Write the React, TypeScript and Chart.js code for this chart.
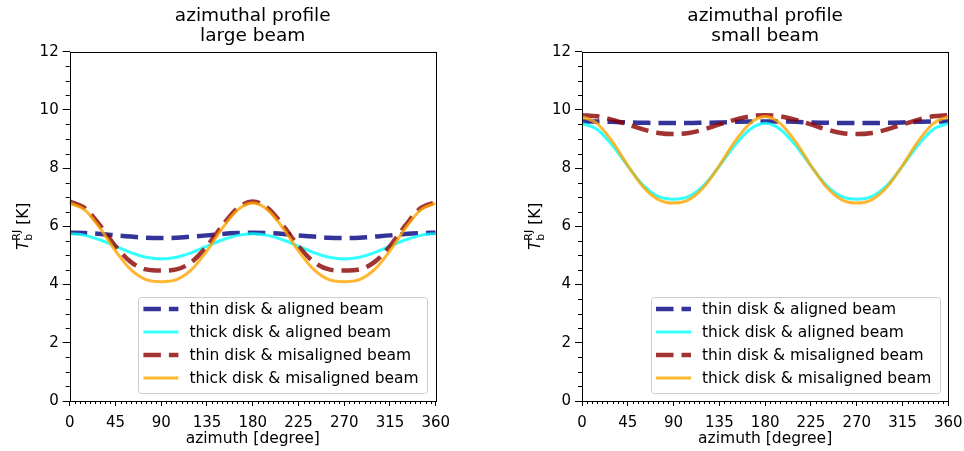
import React, { useEffect, useRef } from "react";
import { Chart, registerables } from "chart.js";

Chart.register(...registerables);

// ---------- data ----------
const AZIMUTH = [0, 15, 30, 45, 60, 75, 90, 105, 120, 135, 150, 165, 180, 195, 210, 225, 240, 255, 270, 285, 300, 315, 330, 345, 360];

const SERIES_LABELS = [
  "thin disk & aligned beam",
  "thick disk & aligned beam",
  "thin disk & misaligned beam",
  "thick disk & misaligned beam",
];

// large beam
const LARGE_THIN_ALIGNED = [5.78, 5.77, 5.74, 5.69, 5.65, 5.61, 5.6, 5.61, 5.65, 5.69, 5.74, 5.77, 5.78, 5.77, 5.74, 5.69, 5.65, 5.61, 5.6, 5.61, 5.65, 5.69, 5.74, 5.77, 5.78];
const LARGE_THICK_ALIGNED = [5.75, 5.69, 5.53, 5.32, 5.1, 4.94, 4.88, 4.94, 5.1, 5.32, 5.53, 5.69, 5.75, 5.69, 5.53, 5.32, 5.1, 4.94, 4.88, 4.94, 5.1, 5.32, 5.53, 5.69, 5.75];
const LARGE_THIN_MISALIGNED = [6.85, 6.62, 6.02, 5.32, 4.78, 4.52, 4.48, 4.52, 4.78, 5.32, 6.02, 6.62, 6.85, 6.62, 6.02, 5.32, 4.78, 4.52, 4.48, 4.52, 4.78, 5.32, 6.02, 6.62, 6.83];
const LARGE_THICK_MISALIGNED = [6.8, 6.56, 5.93, 5.16, 4.52, 4.17, 4.1, 4.17, 4.52, 5.16, 5.93, 6.56, 6.8, 6.56, 5.93, 5.16, 4.52, 4.17, 4.1, 4.17, 4.52, 5.16, 5.93, 6.56, 6.8];

// small beam
const SMALL_THIN_ALIGNED = [9.6, 9.6, 9.59, 9.57, 9.56, 9.55, 9.55, 9.55, 9.56, 9.57, 9.59, 9.6, 9.6, 9.6, 9.59, 9.57, 9.56, 9.55, 9.55, 9.55, 9.56, 9.57, 9.59, 9.6, 9.6];
const SMALL_THICK_ALIGNED = [9.54, 9.33, 8.78, 8.07, 7.42, 7.03, 6.93, 7.03, 7.42, 8.07, 8.78, 9.33, 9.54, 9.33, 8.78, 8.07, 7.42, 7.03, 6.93, 7.03, 7.42, 8.07, 8.78, 9.33, 9.54];
const SMALL_THIN_MISALIGNED = [9.82, 9.78, 9.66, 9.5, 9.33, 9.21, 9.17, 9.21, 9.33, 9.5, 9.66, 9.78, 9.82, 9.78, 9.66, 9.5, 9.33, 9.21, 9.17, 9.21, 9.33, 9.5, 9.66, 9.78, 9.82];
const SMALL_THICK_MISALIGNED = [9.77, 9.53, 8.9, 8.09, 7.36, 6.92, 6.8, 6.92, 7.36, 8.09, 8.9, 9.53, 9.77, 9.53, 8.9, 8.09, 7.36, 6.92, 6.8, 6.92, 7.36, 8.09, 8.9, 9.53, 9.77];

const X_TICKS = [0, 45, 90, 135, 180, 225, 270, 315, 360];
const Y_TICKS = [0, 2, 4, 6, 8, 10, 12];
const X_MINOR_STEP = 5;
const Y_MINOR_STEP = 0.5;

const TITLE_TOP = "azimuthal profile";
const X_TITLE = "azimuth [degree]";

// ---------- styles ----------
const FAMILY = "'DejaVu Sans', sans-serif";
const STYLES = [
  { color: "rgba(0,0,128,0.8)", width: 4.5, dash: [17.5, 8] },
  { color: "rgba(0,255,255,0.8)", width: 3, dash: [] as number[] },
  { color: "rgba(139,0,0,0.8)", width: 4.5, dash: [17.5, 8] },
  { color: "rgba(255,165,0,0.8)", width: 3, dash: [] as number[] },
];

const decorPlugin = {
  id: "decor",
  afterDraw(chart: any, _args: any, opts: any) {
    const ctx = chart.ctx as CanvasRenderingContext2D;
    const a = chart.chartArea;
    const xs = chart.scales.x;
    const ys = chart.scales.y;
    ctx.save();

    // frame
    ctx.strokeStyle = "#000";
    ctx.lineWidth = 1;
    ctx.strokeRect(Math.round(a.left) + 0.5, Math.round(a.top) + 0.5, Math.round(a.right) - Math.round(a.left), Math.round(a.bottom) - Math.round(a.top));

    // minor ticks
    ctx.beginPath();
    for (let v = 0; v <= 360; v += X_MINOR_STEP) {
      if (v % 45 === 0) continue;
      const px = Math.round(xs.getPixelForValue(v)) + 0.5;
      ctx.moveTo(px, a.bottom);
      ctx.lineTo(px, a.bottom + 3);
    }
    for (let v = 0; v <= 12; v += Y_MINOR_STEP) {
      if (Math.abs(v % 2) < 1e-9) continue;
      const py = Math.round(ys.getPixelForValue(v)) + 0.5;
      ctx.moveTo(a.left, py);
      ctx.lineTo(a.left - 4, py);
    }
    ctx.stroke();

    const cx = (a.left + a.right) / 2;
    ctx.fillStyle = "#000";
    ctx.textAlign = "center";
    ctx.textBaseline = "alphabetic";

    // title
    ctx.font = `18.5px ${FAMILY}`;
    ctx.fillText(TITLE_TOP, cx, 21);
    ctx.fillText(opts.subtitle, cx, 41);

    // x title
    ctx.font = `15.5px ${FAMILY}`;
    ctx.fillText(X_TITLE, cx, 443);

    // y title
    ctx.save();
    ctx.translate(a.left - 42, (a.top + a.bottom) / 2);
    ctx.rotate(-Math.PI / 2);
    ctx.textAlign = "left";
    const big = `15.5px ${FAMILY}`;
    const bigI = `italic 15.5px ${FAMILY}`;
    const small = `11px ${FAMILY}`;
    ctx.font = bigI;
    const wT = ctx.measureText("T").width;
    ctx.font = small;
    const wScript = Math.max(ctx.measureText("b").width, ctx.measureText("RJ").width);
    ctx.font = big;
    const wK = ctx.measureText(" [K]").width;
    let x0 = -(wT + wScript + wK) / 2;
    ctx.font = bigI;
    ctx.fillText("T", x0, 0);
    x0 += wT;
    ctx.font = small;
    ctx.fillText("b", x0, 4);
    ctx.fillText("RJ", x0, -8);
    x0 += wScript;
    ctx.font = big;
    ctx.fillText(" [K]", x0, 0);
    ctx.restore();

    // legend
    ctx.font = `15.5px ${FAMILY}`;
    const datasets = chart.data.datasets;
    let maxW = 0;
    datasets.forEach((d: any) => {
      maxW = Math.max(maxW, ctx.measureText(d.label).width);
    });
    const boxW = 51 + maxW + 9;
    const boxH = 96;
    const bx = a.right - 8 - boxW;
    const by = a.bottom - 8 - boxH;
    ctx.beginPath();
    (ctx as any).roundRect(Math.round(bx) + 0.5, Math.round(by) + 0.5, Math.round(boxW), Math.round(boxH), 3);
    ctx.fillStyle = "rgba(255,255,255,0.8)";
    ctx.fill();
    ctx.strokeStyle = "#cccccc";
    ctx.lineWidth = 1;
    ctx.stroke();
    datasets.forEach((d: any, i: number) => {
      const cy = by + 12 + i * 23;
      ctx.beginPath();
      ctx.strokeStyle = d.borderColor;
      ctx.lineWidth = d.borderWidth;
      ctx.setLineDash(d.borderDash || []);
      ctx.lineCap = "butt";
      ctx.moveTo(bx + 5, cy);
      ctx.lineTo(bx + 40, cy);
      ctx.stroke();
      ctx.setLineDash([]);
      ctx.fillStyle = "#000";
      ctx.textAlign = "left";
      ctx.textBaseline = "middle";
      ctx.fillText(d.label, bx + 51, cy + 1);
    });

    ctx.restore();
  },
};

type PanelProps = {
  left: number;
  width: number;
  plotLeft: number;
  padRight: number;
  subtitle: string;
  series: number[][];
};

function Panel({ left, width, plotLeft, padRight, subtitle, series }: PanelProps) {
  const ref = useRef<HTMLCanvasElement | null>(null);
  useEffect(() => {
    if (!ref.current) return;
    const datasets = series.map((vals, i) => ({
      label: SERIES_LABELS[i],
      data: AZIMUTH.map((x, j) => ({ x, y: vals[j] })),
      borderColor: STYLES[i].color,
      borderWidth: STYLES[i].width,
      borderDash: STYLES[i].dash,
      borderCapStyle: "butt",
      pointRadius: 0,
      fill: false,
      cubicInterpolationMode: "monotone",
      clip: 0,
      order: 3 - i,
    }));
    const chart = new Chart(ref.current, {
      type: "line",
      data: { datasets } as any,
      options: {
        responsive: false,
        animation: false,
        devicePixelRatio: 1,
        layout: { padding: { left: 0, right: padRight, top: 51.7, bottom: 0 } },
        plugins: {
          legend: { display: false },
          tooltip: { enabled: false },
          title: { display: false },
          decor: { subtitle },
        } as any,
        scales: {
          x: {
            type: "linear",
            min: 0,
            max: 360,
            afterBuildTicks: (s: any) => {
              s.ticks = X_TICKS.map((v) => ({ value: v }));
            },
            afterFit: (s: any) => {
              s.height = 50;
              s.paddingLeft = 0;
              s.paddingRight = 0;
            },
            ticks: {
              font: { family: FAMILY, size: 15 },
              color: "#000",
              padding: 8,
              maxRotation: 0,
              autoSkip: false,
            },
            grid: { display: true, drawOnChartArea: false, drawTicks: true, tickLength: 5, color: "#000", lineWidth: 1 },
            border: { display: false },
          },
          y: {
            type: "linear",
            min: 0,
            max: 12,
            afterBuildTicks: (s: any) => {
              s.ticks = Y_TICKS.map((v) => ({ value: v }));
            },
            afterFit: (s: any) => {
              s.width = plotLeft;
              s.paddingTop = 0;
              s.paddingBottom = 0;
            },
            ticks: {
              font: { family: FAMILY, size: 15 },
              color: "#000",
              padding: 4,
            },
            grid: { display: true, drawOnChartArea: false, drawTicks: true, tickLength: 7, color: "#000", lineWidth: 1 },
            border: { display: false },
          },
        },
      } as any,
      plugins: [decorPlugin as any],
    });
    return () => chart.destroy();
  }, []);
  return (
    <canvas
      ref={ref}
      width={width}
      height={451}
      style={{ position: "absolute", left, top: 0, width, height: 451, display: "block" }}
    />
  );
}

export default function App() {
  return (
    <div style={{ position: "absolute", left: 0, top: 0, width: 964, height: 451, background: "#fff", overflow: "hidden" }}>
      <Panel
        left={0}
        width={482}
        plotLeft={69.7}
        padRight={46.3}
        subtitle="large beam"
        series={[LARGE_THIN_ALIGNED, LARGE_THICK_ALIGNED, LARGE_THIN_MISALIGNED, LARGE_THICK_MISALIGNED]}
      />
      <Panel
        left={482}
        width={482}
        plotLeft={100}
        padRight={15.7}
        subtitle="small beam"
        series={[SMALL_THIN_ALIGNED, SMALL_THICK_ALIGNED, SMALL_THIN_MISALIGNED, SMALL_THICK_MISALIGNED]}
      />
    </div>
  );
}
